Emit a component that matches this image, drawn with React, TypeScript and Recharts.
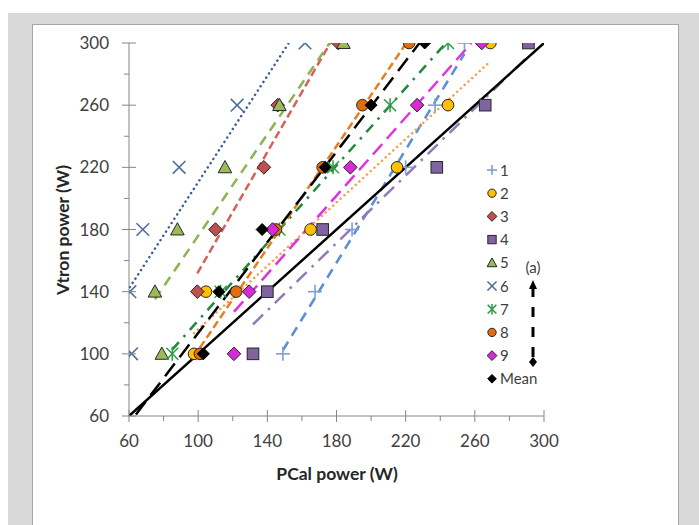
import React from 'react';
import { ScatterChart, Scatter, XAxis, YAxis } from 'recharts';

// Vtron power levels (y) and PCal readings (x) for each unit
const LEVELS = [100, 140, 180, 220, 260, 300];
const LEVELS_3 = [140, 180, 220, 260, 300];

const s1X = [149, 167.6, 189, 220, 237, 254];
const s2X = [97.6, 104.5, 165, 215, 244.5, 269];
const s3X = [99.5, 110, 138, 146, 181];
const s4X = [131.7, 140, 172, 238, 266, 291];
const s5X = [79, 75, 88, 115.5, 147, 184];
const s6X = [61.5, 60.5, 68, 89, 122.5, 161.8];
const s7X = [85, 113, 147, 178, 211, 244.5];
const s8X = [101, 122, 145, 172, 195, 222];
const s9X = [120.7, 129.5, 143, 188, 226.6, 264];
const meanX = [103, 112, 137, 173.5, 200, 231];

// trendline end points [x, y] as seen on the chart
const trend1 = [[149, 102.3], [254, 293.1]];
const trend2 = [[97.6, 113.3], [269, 288.2]];
const trend3 = [[99.5, 151.8], [176.4, 300]];
const trend4 = [[131.7, 118.9], [291, 291.7]];
const trend5 = [[75, 135.1], [176, 300]];
const trend6 = [[60.5, 142.9], [152.4, 300]];
const trend7 = [[85, 102.7], [243.3, 300]];
const trend8 = [[101, 103.9], [220.4, 300]];
const trend9 = [[120.7, 127], [258, 300]];
const trendMean = [[64, 61], [228, 300]];
const identity = [[60, 60], [300, 300]];

const TICKS = [60, 80, 100, 120, 140, 160, 180, 200, 220, 240, 260, 280, 300];

const FONT = 'Lato, "Open Sans", sans-serif';

const pts = (xs: number[], ys: number[]) => xs.map((x, i) => ({ x, y: ys[i] }));
const seg = (p: number[][]) => p.map(([x, y]) => ({ x, y }));

const DOT = '0.1 5';

const series = [
  { name: '1', data: pts(s1X, LEVELS), kind: 'plus', color: '#7b9fd6', trend: trend1, line: '#5b8fd6', dash: '10 7' },
  { name: '2', data: pts(s2X, LEVELS), kind: 'circle', color: '#ffc000', trend: trend2, line: '#f5a050', dash: DOT },
  { name: '3', data: pts(s3X, LEVELS_3), kind: 'diamond', color: '#c0504d', trend: trend3, line: '#d95f5b', dash: '8 4' },
  { name: '4', data: pts(s4X, LEVELS), kind: 'square', color: '#8064a2', trend: trend4, line: '#9379b8', dash: '14 7 2.5 7' },
  { name: '5', data: pts(s5X, LEVELS), kind: 'triangle', color: '#9bbb59', trend: trend5, line: '#8db350', dash: '10 7' },
  { name: '6', data: pts(s6X, LEVELS), kind: 'cross', color: '#4f6d9a', trend: trend6, line: '#3d5f94', dash: DOT },
  { name: '7', data: pts(s7X, LEVELS), kind: 'star', color: '#2a9d47', trend: trend7, line: '#24873a', dash: '10 7 2.5 7' },
  { name: '8', data: pts(s8X, LEVELS), kind: 'circle', color: '#e46c0a', trend: trend8, line: '#e87d1e', dash: '8 4' },
  { name: '9', data: pts(s9X, LEVELS), kind: 'diamond', color: '#d62bd6', trend: trend9, line: '#e033e0', dash: '14 7' },
  { name: 'Mean', data: pts(meanX, LEVELS), kind: 'mean', color: '#000000', trend: trendMean, line: '#000000', dash: '16 8' },
];

function drawMarker(kind: string, color: string, cx: number, cy: number, k = 1) {
  const o = '#262626';
  switch (kind) {
    case 'plus': {
      const r = 7 * k;
      return (
        <g stroke={color} strokeWidth={1.6}>
          <line x1={cx - r} x2={cx + r} y1={cy} y2={cy} />
          <line x1={cx} x2={cx} y1={cy - r} y2={cy + r} />
        </g>
      );
    }
    case 'circle':
      return <circle cx={cx} cy={cy} r={5.8 * k} fill={color} stroke={o} strokeWidth={1} />;
    case 'diamond':
    case 'mean': {
      const r = (kind === 'mean' ? 6 : 6.8) * k;
      return (
        <polygon
          points={`${cx},${cy - r} ${cx + r},${cy} ${cx},${cy + r} ${cx - r},${cy}`}
          fill={color}
          stroke={kind === 'mean' ? '#000' : o}
          strokeWidth={1}
        />
      );
    }
    case 'square': {
      const r = 5.8 * k;
      return <rect x={cx - r} y={cy - r} width={2 * r} height={2 * r} fill={color} stroke={o} strokeWidth={1} />;
    }
    case 'triangle': {
      const r = 6.8 * k;
      return (
        <polygon
          points={`${cx},${cy - r} ${cx + r},${cy + r * 0.8} ${cx - r},${cy + r * 0.8}`}
          fill={color}
          stroke={o}
          strokeWidth={1}
        />
      );
    }
    case 'cross': {
      const r = 6.3 * k;
      return (
        <g stroke={color} strokeWidth={1.6}>
          <line x1={cx - r} x2={cx + r} y1={cy - r} y2={cy + r} />
          <line x1={cx - r} x2={cx + r} y1={cy + r} y2={cy - r} />
        </g>
      );
    }
    case 'star': {
      const r = 6 * k;
      return (
        <g stroke={color} strokeWidth={1.5}>
          <line x1={cx - r} x2={cx + r} y1={cy - r} y2={cy + r} />
          <line x1={cx - r} x2={cx + r} y1={cy + r} y2={cy - r} />
          <line x1={cx} x2={cx} y1={cy - r - 1} y2={cy + r + 1} />
        </g>
      );
    }
    default:
      return <g />;
  }
}

const AXIS = '#868686';
const isMajor = (v: number) => (v - 60) % 40 === 0;

const XTick = (props: any) => {
  const { x, y, payload } = props;
  const major = isMajor(payload.value);
  return (
    <g>
      <line x1={x} x2={x} y1={major ? y - 6 : y} y2={y + (major ? 6 : 5)} stroke={AXIS} />
      {major && (
        <text x={x} y={y + 31} textAnchor="middle" fontSize={17} fontFamily={FONT} fill="#404040">
          {payload.value}
        </text>
      )}
    </g>
  );
};

const YTick = (props: any) => {
  const { x, y, payload } = props;
  const major = isMajor(payload.value);
  return (
    <g>
      <line x1={major ? x - 7 : x - 5} x2={major ? x + 7 : x} y1={y} y2={y} stroke={AXIS} />
      {major && (
        <text x={x - 20} y={y + 6} textAnchor="end" fontSize={17} fontFamily={FONT} fill="#404040">
          {payload.value}
        </text>
      )}
    </g>
  );
};

const none = () => <g />;

export default function App() {
  return (
    <div style={{ position: 'absolute', left: 0, top: 0, width: 699, height: 525, overflow: 'hidden', fontFamily: FONT }}>
      <div style={{ position: 'absolute', left: 8, top: 13, width: 691, height: 512, background: '#d9d9d9' }} />
      <div
        style={{
          position: 'absolute',
          left: 32,
          top: 24,
          width: 647,
          height: 520,
          background: '#ffffff',
          border: '1px solid #a6a6a6',
          boxSizing: 'border-box',
        }}
      />
      <div style={{ position: 'absolute', left: 32, top: 24 }}>
        <ScatterChart width={646} height={501} margin={{ top: 19, right: 134, bottom: 79, left: 37 }}>
          <XAxis
            type="number"
            dataKey="x"
            domain={[60, 300]}
            ticks={TICKS}
            interval={0}
            allowDataOverflow
            height={30}
            tickSize={0}
            tickMargin={0}
            tick={<XTick />}
            axisLine={{ stroke: AXIS }}
            tickLine={false}
          />
          <YAxis
            type="number"
            dataKey="y"
            domain={[60, 300]}
            ticks={TICKS}
            interval={0}
            allowDataOverflow
            width={60}
            tickSize={0}
            tickMargin={0}
            tick={<YTick />}
            axisLine={{ stroke: AXIS }}
            tickLine={false}
          />
          {series.map((s) => (
            <Scatter
              key={'t' + s.name}
              data={seg(s.trend)}
              line={{
                stroke: s.line,
                strokeWidth: 2.5,
                strokeDasharray: s.dash,
                strokeLinecap: s.dash === DOT ? 'round' : 'butt',
              }}
              shape={none}
              isAnimationActive={false}
            />
          ))}
          <Scatter
            data={seg(identity)}
            line={{ stroke: '#000', strokeWidth: 2.5 }}
            shape={none}
            isAnimationActive={false}
          />
          {series.map((s) => (
            <Scatter
              key={'m' + s.name}
              name={s.name}
              data={s.data}
              shape={(p: any) => drawMarker(s.kind, s.color, p.cx, p.cy)}
              isAnimationActive={false}
            />
          ))}
        </ScatterChart>
      </div>
      <svg width={699} height={525} style={{ position: 'absolute', left: 0, top: 0, pointerEvents: 'none' }}>
        <text x={337} y={480} textAnchor="middle" fontSize={17.5} fontWeight="bold" fontFamily={FONT} fill="#262626">
          PCal power (W)
        </text>
        <text
          transform="translate(69,230) rotate(-90)"
          textAnchor="middle"
          fontSize={17.5}
          fontWeight="bold"
          fontFamily={FONT}
          fill="#262626"
        >
          Vtron power (W)
        </text>
        {series.map((s, i) => {
          const cy = 170 + i * 23.2;
          return (
            <g key={'l' + s.name}>
              {drawMarker(s.kind, s.color, 492, cy, 0.72)}
              <text x={500} y={cy + 5.5} fontSize={15} fontFamily={FONT} fill="#404040">
                {s.name}
              </text>
            </g>
          );
        })}
        <text x={533} y={273} textAnchor="middle" fontSize={15} fontFamily={FONT} fill="#404040">
          (a)
        </text>
        <polygon points="533,280 529,289 537,289" fill="#000" />
        <line x1={533} x2={533} y1={287} y2={358} stroke="#000" strokeWidth={3} strokeDasharray="10 10" />
        <polygon points="533,357 537,362 533,367 529,362" fill="#000" />
      </svg>
    </div>
  );
}
